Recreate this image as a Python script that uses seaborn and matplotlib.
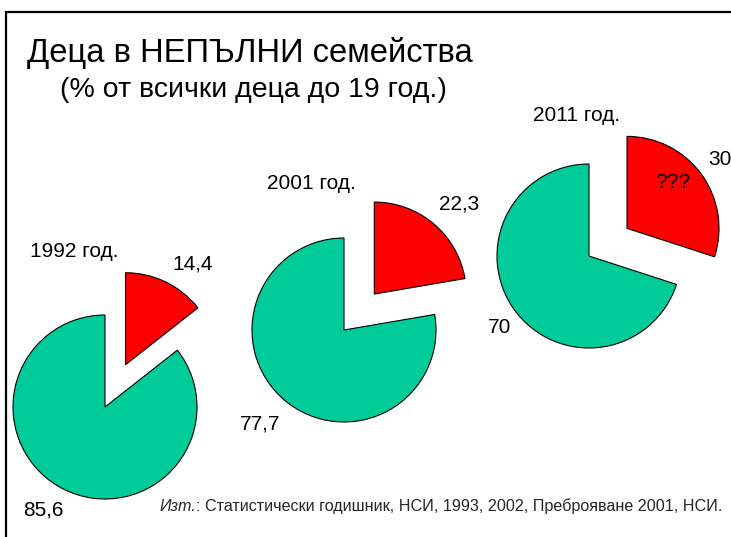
import matplotlib
matplotlib.use("Agg")
import matplotlib.pyplot as plt
from matplotlib.lines import Line2D
import seaborn as sns

# Данни
years = ["1992 год.", "2001 год.", "2011 год."]
incomplete = [14.4, 22.3, 30]
complete = [85.6, 77.7, 70]
incomplete_labels = ["14,4", "22,3", "30"]
complete_labels = ["85,6", "77,7", "70"]

sns.set_theme(style="white")
plt.rcParams['font.family'] = ['Liberation Sans', 'DejaVu Sans']

colors = ["#FF0000", "#00CC99"]

W, H = 731, 537
fig = plt.figure(figsize=(7.31, 5.37), dpi=100)
fig.patch.set_facecolor("white")
ax = fig.add_axes([0, 0, 1, 1])

# центрове на зелените сектори (пиксели) и радиус
centers = [(105, 407), (344, 330), (589, 256)]
R = 92
for i in range(3):
    cx, cy = centers[i]
    ax.pie([incomplete[i], complete[i]], colors=colors, startangle=90,
           counterclock=False, radius=R, center=(cx, H - cy),
           explode=[47, 0], frame=True,
           wedgeprops=dict(edgecolor="black", linewidth=0.8))
ax.set_xlim(0, W)
ax.set_ylim(0, H)
ax.set_aspect("equal")
ax.axis("off")

def txt(x, y, s, **kw):
    ax.text(x, H - y, s, color="black", ha="left", va="baseline", **kw)

# надписи към кръговите диаграми (ляв край, базова линия)
year_pos = [(30, 257), (267, 189), (533, 121)]
inc_pos = [(172, 269), (439, 210), (708, 165)]
comp_pos = [(23, 516), (240, 430), (488, 333)]
for i in range(3):
    txt(*year_pos[i], years[i], fontsize=15)
    txt(*inc_pos[i], incomplete_labels[i], fontsize=15)
    txt(*comp_pos[i], complete_labels[i], fontsize=15)
txt(655, 188, "???", fontsize=15)

# заглавие
txt(27, 62, "Деца в НЕПЪЛНИ семейства", fontsize=23.6)
txt(60, 97, "(% от всички деца до 19 год.)", fontsize=20.5)

# източник
t1 = ax.text(159, H - 511, "Изт.", fontsize=11.6, style="italic", ha="left", va="baseline")
fig.canvas.draw()
bb = t1.get_window_extent().transformed(ax.transData.inverted())
ax.text(bb.x1, H - 511, ": Статистически годишник, НСИ, 1993, 2002, Преброяване 2001, НСИ.",
        fontsize=11.6, ha="left", va="baseline")

# рамка
fig.add_artist(Line2D([6 / W, 1], [1 - 12 / H, 1 - 12 / H], color="black", lw=1.6))
fig.add_artist(Line2D([6 / W, 6 / W], [0, 1 - 12 / H], color="black", lw=1.6))

fig.savefig("out.png", dpi=100)
